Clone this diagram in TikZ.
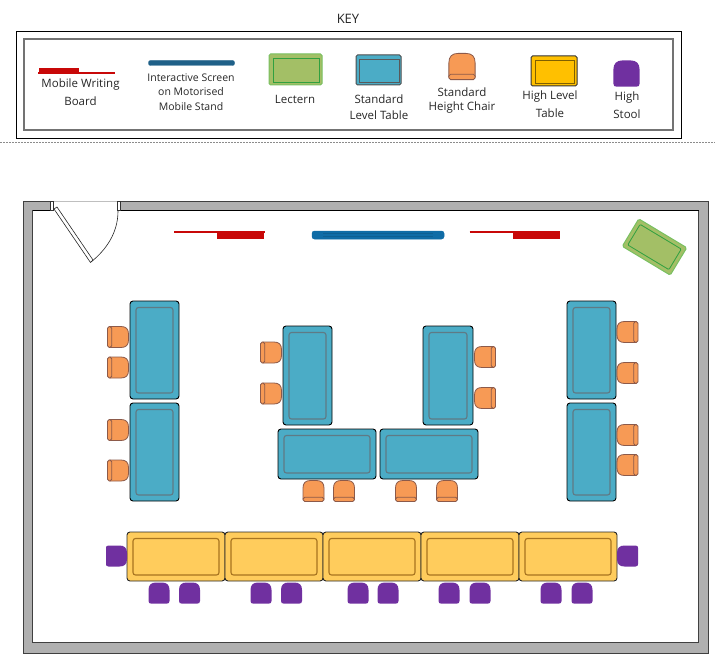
\documentclass[tikz,border=0pt]{standalone}
\usepackage{fontspec}
\setmainfont{Open Sans}
\usetikzlibrary{calc}
\definecolor{wallgray}{HTML}{B0B0B0}
\definecolor{walledge}{HTML}{404040}
\definecolor{boardred}{HTML}{C80808}
\definecolor{screenblue}{HTML}{0F6CA6}
\definecolor{keyscreen}{HTML}{1F6088}
\definecolor{tableblue}{HTML}{4BACC6}
\definecolor{tablein}{HTML}{5F7A85}
\definecolor{chairorange}{HTML}{F79A55}
\definecolor{chairedge}{HTML}{8C5A4A}
\definecolor{highyellow}{HTML}{FFCC5C}
\definecolor{highedge}{HTML}{A87420}
\definecolor{keyyellow}{HTML}{FFC000}
\definecolor{keyyedge}{HTML}{7F6000}
\definecolor{stoolpurple}{HTML}{7030A0}
\definecolor{lecternfill}{HTML}{A3BF66}
\definecolor{lecternedge}{HTML}{78C060}
\definecolor{lecternin}{HTML}{30A040}
\tikzset{
  keytext/.style={font=\fontsize{11.5}{13}\selectfont,text=black!85,inner sep=0pt,anchor=center},
  keysmall/.style={font=\fontsize{10.5}{12}\selectfont,text=black!85,inner sep=0pt,anchor=center},
  wallpart/.style={fill=wallgray,draw=walledge,line width=0.8pt},
  blueouter/.style={fill=tableblue,draw=black,line width=0.9pt,rounded corners=3pt},
  blueinner/.style={draw=tablein,line width=1.1pt,rounded corners=2.5pt},
  highouter/.style={fill=highyellow,draw=black!85,line width=0.9pt,rounded corners=3pt},
  highinner/.style={draw=highedge,line width=1.1pt,rounded corners=2.5pt},
  boardline/.style={draw=boardred,line width=2.4pt},
  boardblock/.style={fill=boardred,draw=boardred,line width=0.5pt},
  chairpart/.style={fill=chairorange,draw=chairedge,line width=0.8pt},
  chair/.pic={
    \path[chairpart] (-10.5,8) -- (-10.5,-3) .. controls (-10.5,-8) and (-8,-10.5) .. (-3,-10.5)
      -- (3,-10.5) .. controls (8,-10.5) and (10.5,-8) .. (10.5,-3) -- (10.5,8) -- cycle;
    \path[chairpart,rounded corners=1.8pt] (-10.5,6.2) rectangle (10.5,10.5);
  },
  stool/.pic={
    \fill[stoolpurple] (-10.5,8) -- (-10.5,-3) .. controls (-10.5,-8) and (-8,-10.5) .. (-3,-10.5)
      -- (3,-10.5) .. controls (8,-10.5) and (10.5,-8) .. (10.5,-3) -- (10.5,8)
      .. controls (10.5,10) and (9.5,10.5) .. (8,10.5) -- (-8,10.5)
      .. controls (-9.5,10.5) and (-10.5,10) .. (-10.5,8) -- cycle;
  }
}
\newcommand{\desk}[6]{%
  \draw[#1] (#3,#4) rectangle (#5,#6);
  \draw[#2] ($(#3,#4)+(6,6.5)$) rectangle ($(#5,#6)+(-6,-6)$);
}
\newcommand{\wboard}[4]{%
  \draw[boardblock] (#3,233) rectangle (#4,238);
  \draw[boardline] (#1,232) -- (#2,232);
}
\begin{document}
\begin{tikzpicture}[x=1pt,y=-1pt]
\useasboundingbox (0,0) rectangle (715,661);
% key frame
\node[keytext,font=\fontsize{13}{15}\selectfont] (keytitle) at (348,19) {KEY};
\draw[black,line width=0.9pt] (16,31) rectangle (681,138);
\draw[black!55,line width=1.2pt] (24,39) rectangle (673,130);
\draw[black!45,line width=0.5pt,dash pattern=on 2pt off 1pt] (0,142) -- (715,142);
% key symbols
\draw[boardblock] (39,68.5) rectangle (78,72.5);
\draw[boardline,line width=2pt] (38,73.3) -- (115,73.3);
\draw[fill=keyscreen,draw=keyscreen,rounded corners=2pt] (148.5,60.5) rectangle (234.5,65.5);
\draw[fill=lecternfill,draw=lecternedge,line width=1pt,rounded corners=1.5pt] (269,54) rectangle (322,85);
\draw[draw=lecternin,line width=0.8pt] (273,58) rectangle (319,82);
\draw[fill=tableblue,draw=black!70,line width=1pt,rounded corners=1.5pt] (356,55) rectangle (401,85);
\draw[draw=black!65,line width=0.8pt] (359,59) rectangle (399,82);
\begin{scope}[shift={(462,66.5)},scale=1.25,transform shape]
\pic {chair};
\end{scope}
\draw[fill=keyyellow,draw=black!80,line width=1pt,rounded corners=1.5pt] (531,56) rectangle (577,86);
\draw[draw=keyyedge,line width=0.8pt] (535,60) rectangle (574,83);
\begin{scope}[shift={(626.5,73.5)},scale=1.25,transform shape]
\pic {stool};
\end{scope}
% key labels
\node[keytext] (k1a) at (80.5,85) {Mobile Writing};
\node[keytext] (k1b) at (80.5,101) {Board};
\node[keysmall] (k2a) at (191,78) {Interactive Screen};
\node[keysmall] (k2b) at (191,92) {on Motorised};
\node[keysmall] (k2c) at (191,107) {Mobile Stand};
\node[keytext] (k3) at (295,99) {Lectern};
\node[keytext] (k4a) at (379,99) {Standard};
\node[keytext] (k4b) at (379,115) {Level Table};
\node[keytext] (k5a) at (462,92) {Standard};
\node[keytext] (k5b) at (462,108) {Height Chair};
\node[keytext] (k6a) at (550,97) {High Level};
\node[keytext] (k6b) at (550,113) {Table};
\node[keytext] (k7a) at (627,98) {High};
\node[keytext] (k7b) at (627,114) {Stool};
% walls
\path[wallpart,even odd rule] (23,201) rectangle (708,653) (32.5,210.5) rectangle (698.5,642.5);
\fill[white] (53,200) rectangle (118,211);
\draw[draw=black!25,line width=0.5pt] (53,201) -- (118,201);
\draw[draw=black,line width=0.8pt] (32.5,210.5) -- (53,210.5) (118,210.5) -- (698.5,210.5);
\draw[fill=white,draw=black!80,line width=0.6pt] (50.5,201) rectangle (53.5,210.5);
\draw[fill=white,draw=black!80,line width=0.6pt] (117.5,201) rectangle (120.5,210.5);
% door
\draw[fill=white,draw=black!85,line width=0.6pt] (54,209) -- (57,207) -- (93,260) -- (90.5,262.5) -- cycle;
\draw[black!85,line width=0.6pt] (91,262) .. controls (106,250) and (118,233) .. (118,211);
% boards and screen
\wboard{174}{265}{217.5}{263}
\wboard{469.5}{560}{513.5}{559}
\draw[fill=screenblue,draw=screenblue,line width=0.5pt,rounded corners=2.5pt] (312,231) rectangle (444,239);
\draw[screenblue!88!black,line width=0.4pt] (323,233.5) -- (433,233.5) (323,236.5) -- (433,236.5);
% lectern
\begin{scope}[shift={(654.5,247)},rotate=-31]
\draw[fill=lecternfill,draw=lecternedge,line width=1pt,rounded corners=1.5pt] (-28,-16) rectangle (28,16);
\draw[draw=lecternin,line width=0.8pt,rounded corners=1pt] (-24,-12) rectangle (24,12);
\end{scope}
% chairs
\foreach \px/\py in {118/337,118/367.5,118/430,118/470.5,271/352.5,271/393.5}
  \pic[rotate=-90] at (\px,\py) {chair};
\foreach \px/\py in {485/357,485/398,627.5/332,627.5/373,627.5/435,627.5/465}
  \pic[rotate=90] at (\px,\py) {chair};
\foreach \px in {313.5,344,406,447}
  \pic at (\px,491) {chair};
% blue tables
\desk{blueouter}{blueinner}{130}{301}{179}{399}
\desk{blueouter}{blueinner}{130}{403}{179}{501}
\desk{blueouter}{blueinner}{283}{326}{332}{425}
\desk{blueouter}{blueinner}{423}{326}{473}{425}
\desk{blueouter}{blueinner}{567}{301}{616}{399}
\desk{blueouter}{blueinner}{567}{403}{616}{501}
\desk{blueouter}{blueinner}{278}{429}{376}{479}
\desk{blueouter}{blueinner}{380}{429}{478}{479}
% high tables
\desk{highouter}{highinner}{127}{532}{225}{581}
\desk{highouter}{highinner}{225}{532}{323}{581}
\desk{highouter}{highinner}{323}{532}{421}{581}
\desk{highouter}{highinner}{421}{532}{519}{581}
\desk{highouter}{highinner}{519}{532}{617}{581}
% stools
\pic[rotate=-90] at (116.5,556) {stool};
\pic[rotate=90] at (627.5,556) {stool};
\foreach \px in {159,189.5,261,291.5,358,388,449,480,551,582}
  \pic at (\px,593) {stool};
\end{tikzpicture}
\end{document}
